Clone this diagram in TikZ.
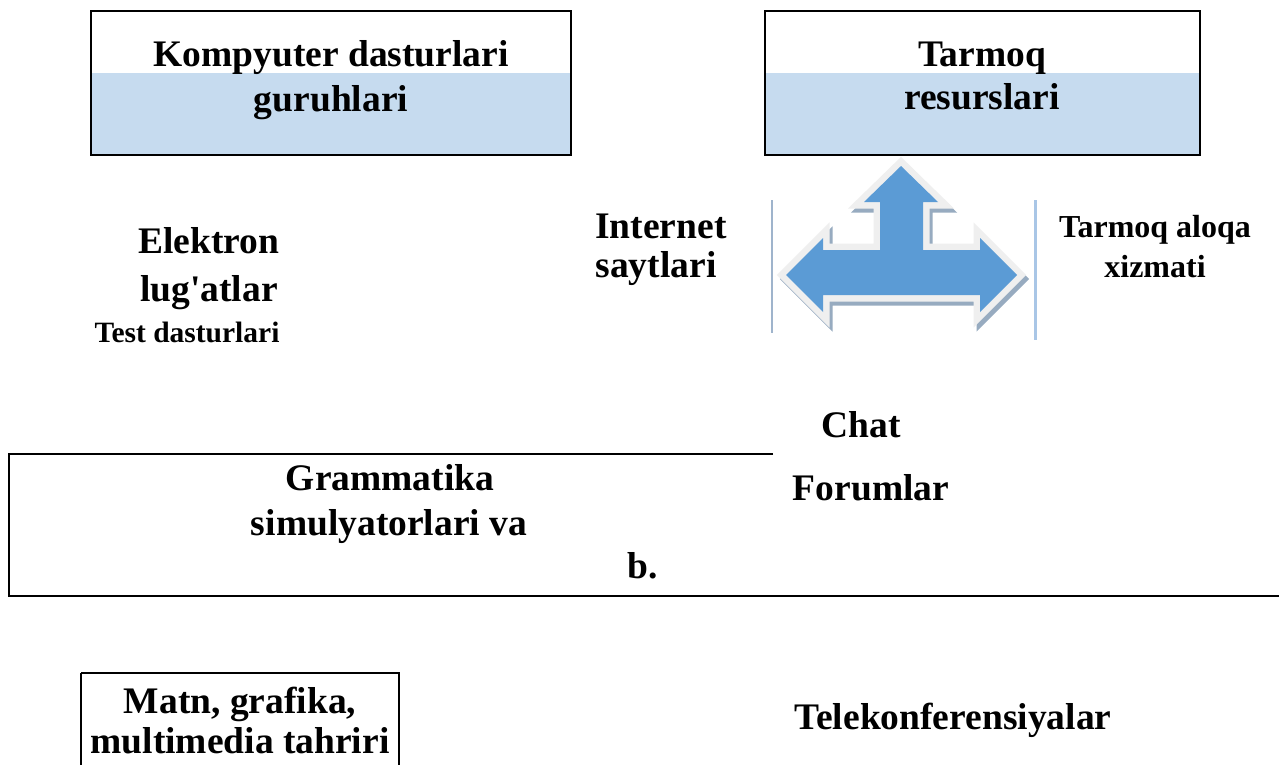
\documentclass[tikz,border=0pt]{standalone}
\usepackage{fontspec}
\setmainfont{Liberation Serif}
\definecolor{boxfill}{HTML}{C6DBEF}
\definecolor{arrowblue}{HTML}{5B9BD5}
\definecolor{arrowband}{HTML}{EFEFEF}
\definecolor{arrowshade}{HTML}{97ABC0}
\definecolor{edgeL}{HTML}{9FB4CC}
\definecolor{edgeR}{HTML}{A9C6E6}
\begin{document}
\begin{tikzpicture}[x=1pt,y=-1pt,
  big/.style={font=\bfseries\fontsize{37.5}{44}\selectfont, inner sep=0pt, anchor=base},
  mid/.style={font=\bfseries\fontsize{32}{38}\selectfont, inner sep=0pt, anchor=base},
  small/.style={font=\bfseries\fontsize{29.5}{34}\selectfont, inner sep=0pt, anchor=base},
  frame/.style={draw=black, line width=2.2pt},
  rule/.style={draw=black, line width=2.2pt}]
\useasboundingbox (0,0) rectangle (1279,764);
\fill[white] (0,0) rectangle (1279,764);

% top-left box
\fill[boxfill] (91,73) rectangle (571,155);
\draw[frame] (91,11) rectangle (571,155);
\node[big] (k1) at (331,66) {Kompyuter dasturlari};
\node[big] (k2) at (331,111) {guruhlari};

% top-right box
\fill[boxfill] (765,73) rectangle (1200,155);
\draw[frame] (765,11) rectangle (1200,155);
\node[big] (t1) at (982,66) {Tarmoq};
\node[big] (t2) at (982,109) {resurslari};

% left column texts
\node[big] (e1) at (209,253) {Elektron};
\node[big] (e2) at (209,301) {lug\textquotesingle atlar};
\node[small] (td) at (187,342) {Test dasturlari};

\node[big] (i1) at (661,238) {Internet};
\node[big] (i2) at (656,277) {saytlari};

\node[mid] (ta1) at (1155,237) {Tarmoq aloqa};
\node[mid] (ta2) at (1155,277) {xizmati};

% arrow graphic
\draw[edgeL, line width=1.5pt] (772,200) -- (772,333);
\draw[edgeR, line width=3pt] (1035,200) -- (1035,340);
\def\arrowpath{(901,166) -- (938,202) -- (923,202) -- (923,250) -- (980,250) -- (980,238) -- (1017,275) -- (980,312) -- (980,295) -- (823,295) -- (823,312) -- (786,275) -- (823,238) -- (823,250) -- (880,250) -- (880,202) -- (864,202) -- cycle}
\begin{scope}[shift={(3,4)}]
\filldraw[fill=arrowshade, draw=arrowshade, line width=13pt, line join=miter, miter limit=3] \arrowpath;
\end{scope}
\draw[arrowband, fill=arrowband, line width=13pt, line join=miter, miter limit=3] \arrowpath;
\fill[arrowblue] \arrowpath;

\node[big] (ch) at (861,437) {Chat};
\node[big] (fo) at (871,500) {Forumlar};

% grammatika frame
\draw[rule] (773,454) -- (9,454) -- (9,596) -- (1279,596);
\node[big] (g1) at (390,490) {Grammatika};
\node[big] (g2) at (389,535) {simulyatorlari va};
\node[big] (g3) at (643,578) {b.};

% bottom
\draw[frame] (81,673) -- (81,770) (81,673) -- (399,673) -- (399,770);
\node[big] (m1) at (240,713) {Matn, grafika,};
\node[big] (m2) at (240,753) {multimedia tahriri};

\node[big] (tk) at (953,729) {Telekonferensiyalar};
\end{tikzpicture}
\end{document}
